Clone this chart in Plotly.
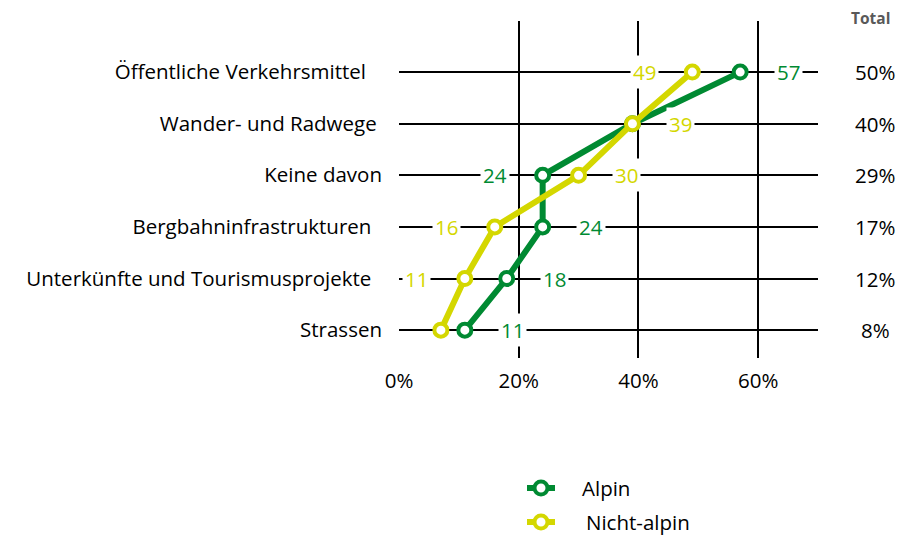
import plotly.graph_objects as go

NB = "\u00a0"
categories = ["Öffentliche Verkehrsmittel" + NB * 3, "Wander- und Radwege" + NB, "Keine davon",
              "Bergbahninfrastrukturen" + NB * 2, "Unterkünfte und Tourismusprojekte" + NB * 2, "Strassen"]
alpin = [57, 39, 24, 24, 18, 11]
nicht_alpin = [49, 39, 30, 16, 11, 7]
totals = ["50%", "40%", "29%", "17%", "12%", "8%"]
# label side: +1 right, -1 left, 0 hidden
alpin_label_side = [1, 0, -1, 1, 1, 1]
nicht_label_side = [-1, 1, 1, -1, -1, 0]
x_ticks = [0, 20, 40, 60]
x_ticklabels = ["0%", "20%", "40%", "60%"]
series_names = ["Alpin", "Nicht-alpin"]

GREEN = "#008A32"
YELLOW = "#D4D700"
FONT = "Open Sans"
FS = 20.5

# plot area in figure px (figure is offset 8px by page body margin)
W, H = 899, 527
L, R, T, B = 391, 89, 13, 177
PW, PH = W - L - R, H - T - B


def px2paper(px, py):
    # page pixel -> paper coords
    return (px - 8 - L) / PW, (H - B - (py - 8)) / PH


fig = go.Figure()
for name, vals, col in [(series_names[0], alpin, GREEN), (series_names[1], nicht_alpin, YELLOW)]:
    fig.add_trace(go.Scatter(
        x=vals, y=categories, mode="lines+markers", name=name,
        line=dict(color=col, width=6),
        marker=dict(symbol="circle", size=13, color="white", line=dict(color=col, width=4)),
        cliponaxis=False, showlegend=False,
    ))

annotations = []
for vals, sides, col in [(alpin, alpin_label_side, GREEN), (nicht_alpin, nicht_label_side, YELLOW)]:
    for c, v, s in zip(categories, vals, sides):
        if s == 0:
            continue
        annotations.append(dict(x=v, y=c, xref="x", yref="y", text=str(v), showarrow=False,
                                xshift=48 * s, font=dict(family=FONT, size=FS, color=col),
                                bgcolor="white", borderpad=2))
tx, _ = px2paper(875, 0)
for c, t in zip(categories, totals):
    annotations.append(dict(x=tx, y=c, xref="paper", yref="y", text=t, showarrow=False,
                            xanchor="center", font=dict(family=FONT, size=FS, color="black")))
hx, hy = px2paper(870, 18)
annotations.append(dict(x=hx, y=hy, xref="paper", yref="paper", text="<b>Total</b>", showarrow=False,
                        xanchor="center", yanchor="middle",
                        font=dict(family=FONT, size=15.5, color="#595959")))

# manual legend
shapes = []
for i, (name, col) in enumerate(zip(series_names, [GREEN, YELLOW])):
    py = 488 + 34 * i
    x0, y0 = px2paper(527, py)
    x1, _ = px2paper(555, py)
    cx, cy = px2paper(541, py)
    rx, ry = 6.5 / PW, 6.5 / PH
    shapes.append(dict(type="line", xref="paper", yref="paper", x0=x0, x1=x1, y0=y0, y1=y0,
                       line=dict(color=col, width=6)))
    shapes.append(dict(type="circle", xref="paper", yref="paper", x0=cx - rx, x1=cx + rx,
                       y0=cy - ry, y1=cy + ry, fillcolor="white", line=dict(color=col, width=4)))
    lx, _ = px2paper(581 + 4 * i, py)
    annotations.append(dict(x=lx, y=y0, xref="paper", yref="paper", text=name, showarrow=False,
                            xanchor="left", yanchor="middle", borderpad=0,
                            font=dict(family=FONT, size=FS, color="black")))

fig.update_layout(
    width=W, height=H,
    margin=dict(l=L, r=R, t=T, b=B),
    paper_bgcolor="white", plot_bgcolor="white",
    font=dict(family=FONT, size=FS, color="black"),
    showlegend=False,
    annotations=annotations,
    shapes=shapes,
    xaxis=dict(range=[0, 70], tickvals=x_ticks, ticktext=x_ticklabels, showgrid=True,
               gridcolor="black", gridwidth=1.5, zeroline=False, showline=False, ticks="",
               ticklabelstandoff=8),
    yaxis=dict(categoryorder="array", categoryarray=categories[::-1], range=[-0.54, 5.99],
               showgrid=True, gridcolor="black", gridwidth=1.5, zeroline=False, showline=False,
               ticks="", ticklabelstandoff=16),
)

fig.write_html("out.html")
